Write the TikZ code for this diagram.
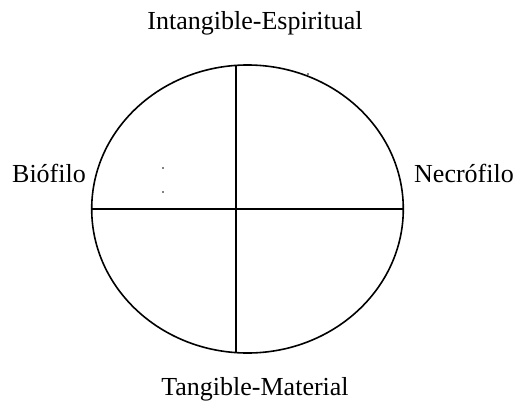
\documentclass[tikz,border=0pt]{standalone}
\usepackage{fontspec}
\setmainfont{Liberation Serif}
\usetikzlibrary{shapes.geometric,positioning,calc}

\begin{document}
\begin{tikzpicture}[x=1pt,y=-1pt,
    lbl/.style={font=\fontsize{26}{30}\selectfont,inner sep=0pt,anchor=base},
    divline/.style={line width=1.6pt}]
                  \useasboundingbox (0,0) rectangle (520,410);

                  % The oval and its two dividing lines.
                  \node[draw,divline,ellipse,minimum width=311.6pt,minimum height=288pt,
                      inner sep=0pt] (oval) at (247.5,209) {};
                  \coordinate (vtop) at (236,65.5);
                  \coordinate (vbot) at (236,353);
                  \draw[divline] (oval.west) -- (oval.east);
                  \draw[divline] (vtop) -- (vbot);

                  % Stray dots.
                  \foreach \px/\py in {163/168, 163/192, 308/74}{
                      \fill (\px,\py) circle (0.8pt);
                  }

                  % Labels of the four poles.
                  \node[lbl] (esp) at (255,29) {Intangible-Espiritual};
                  \node[lbl] (mat) at (255,395) {Tangible-Material};
                  \node[lbl] (bio) at (49,182) {Biófilo};
                  \node[lbl] (nec) at (464,182) {Necrófilo};
                \end{tikzpicture}
\end{document}
